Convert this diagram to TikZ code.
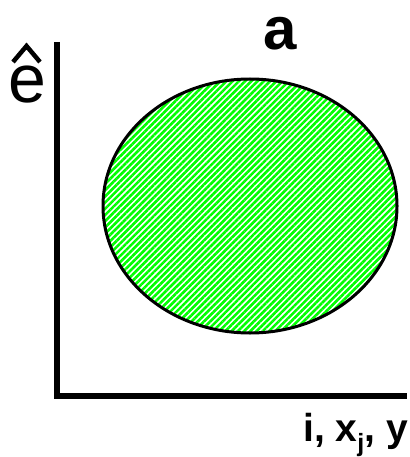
\documentclass[tikz,border=0pt]{standalone}
\usepackage{fontspec}
\setmainfont{Liberation Sans}
\usetikzlibrary{patterns.meta}
\begin{document}
\begin{tikzpicture}[x=1pt,y=-1pt,
  axis/.style={line width=5.5pt},
  blob/.style={line width=3pt,draw=black,
    pattern={Lines[angle=45,distance=4.4pt,line width=2.6pt]},pattern color=green},
  hatmark/.style={line width=4.5pt,line join=miter},
  lbl/.style={inner sep=0pt,anchor=base}]
\useasboundingbox (0,0) rectangle (409,457);
\coordinate (o) at (57,396);
\coordinate (ytop) at (57,42);
\coordinate (xend) at (407,396);
\draw[axis] (ytop) -- (o.center) -- (xend);
\draw[blob] (250,206) ellipse [x radius=147, y radius=127];
\node[lbl] (ttl) at (280,50) {\fontsize{60}{60}\selectfont\bfseries a};
\node[lbl] (ey) at (27,103) {\fontsize{68}{68}\selectfont e};
\coordinate (hl) at (13,62);
\coordinate (ht) at (26.5,46);
\coordinate (hr) at (40,62);
\draw[hatmark] (hl) -- (ht) -- (hr);
\node[lbl,anchor=base east] (ex) at (408,441) {\fontsize{39}{39}\selectfont\bfseries i, x\raisebox{-0.28em}{\fontsize{25}{25}\selectfont j}, y};
\end{tikzpicture}
\end{document}
